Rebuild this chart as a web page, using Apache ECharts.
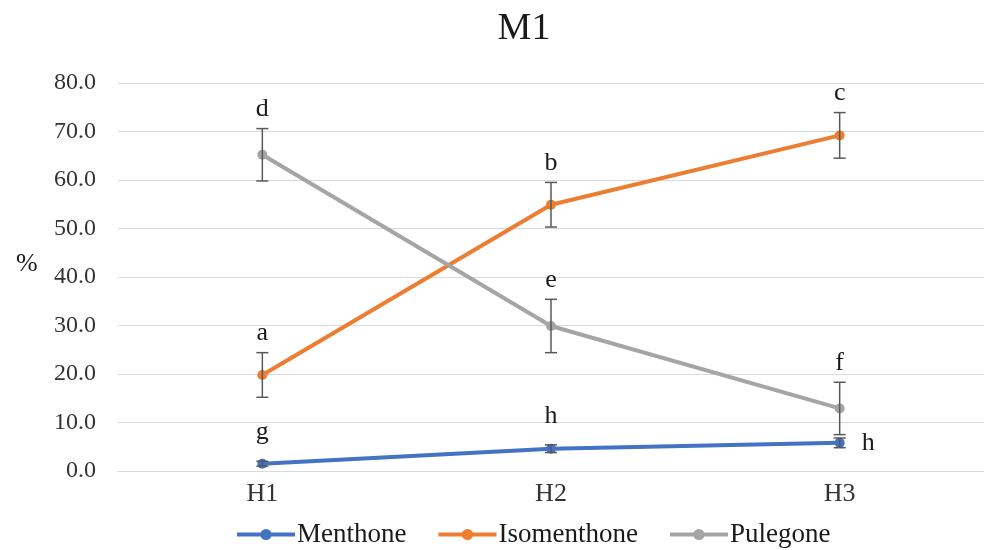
<!DOCTYPE html>
<html>
<head>
<meta charset="utf-8">
<script src="https://cdn.jsdelivr.net/npm/echarts@6/dist/echarts.min.js"></script>
<style>html,body{margin:0;padding:0;background:#fff;}#c{width:984px;height:550px;}</style>
</head>
<body>
<div id="c"></div>
<script>
const categories = ['H1', 'H2', 'H3'];
const yTicks = [0, 10, 20, 30, 40, 50, 60, 70, 80];
const seriesNames = ['Menthone', 'Isomenthone', 'Pulegone'];
const menthone = [1.5, 4.6, 5.8];
const menthoneErr = [0.5, 0.8, 1.0];
const menthoneLetters = ['g', 'h', 'h'];
const isomenthone = [19.8, 54.9, 69.2];
const isomenthoneErr = [4.6, 4.6, 4.7];
const isomenthoneLetters = ['a', 'b', 'c'];
const pulegone = [65.2, 29.9, 12.9];
const pulegoneErr = [5.4, 5.5, 5.4];
const pulegoneLetters = ['d', 'e', 'f'];
const colors = ['#4472C4', '#ED7D31', '#A5A5A5'];

const serif = '"Liberation Serif", "DejaVu Serif", serif';

function errSeries(vals, errs, letters, sideLast) {
  const data = vals.map((v, i) => [i, v, errs[i], letters[i]]);
  return {
    type: 'custom',
    silent: true,
    z: 5,
    data: data,
    renderItem: function (params, api) {
      const i = api.value(0), v = api.value(1), e = api.value(2);
      const letter = data[params.dataIndex][3];
      const top = api.coord([i, v + e]);
      const bot = api.coord([i, v - e]);
      const mid = api.coord([i, v]);
      const hw = 6;
      const st = { stroke: '#595959', lineWidth: 1.5 };
      const children = [
        { type: 'line', shape: { x1: top[0], y1: top[1], x2: bot[0], y2: bot[1] }, style: st },
        { type: 'line', shape: { x1: top[0] - hw, y1: top[1], x2: top[0] + hw, y2: top[1] }, style: st },
        { type: 'line', shape: { x1: bot[0] - hw, y1: bot[1], x2: bot[0] + hw, y2: bot[1] }, style: st }
      ];
      if (sideLast && params.dataIndex === data.length - 1) {
        children.push({ type: 'text', style: { text: letter, x: mid[0] + 22, y: mid[1], align: 'left', verticalAlign: 'middle', fill: '#1a1a1a', font: '26px ' + serif } });
      } else {
        const off = sideLast ? 16 : 6;
        children.push({ type: 'text', style: { text: letter, x: top[0], y: top[1] - off, align: 'center', verticalAlign: 'bottom', fill: '#1a1a1a', font: '26px ' + serif } });
      }
      return { type: 'group', children: children };
    }
  };
}

function lineSeries(name, vals, color) {
  return {
    name: name,
    type: 'line',
    data: vals,
    symbol: 'circle',
    symbolSize: 10,
    lineStyle: { color: color, width: 4 },
    itemStyle: { color: color },
    z: 3
  };
}

const chart = echarts.init(document.getElementById('c'));
chart.setOption({
  animation: false,
  backgroundColor: '#fff',
  title: { text: 'M1', left: 519, top: 5, textAlign: 'center', textStyle: { fontFamily: serif, fontSize: 38, fontWeight: 'normal', color: '#1a1a1a' } },
  legend: {
    data: seriesNames,
    top: 516,
    left: 230,
    itemWidth: 58,
    itemHeight: 14,
    itemGap: 30,
    lineStyle: { width: 4 },
    textStyle: { fontFamily: serif, fontSize: 27, color: '#1a1a1a', padding: [0, 0, 0, -3] }
  },
  grid: { left: 118, right: 0, top: 83, bottom: 79, containLabel: false },
  graphic: [{ type: 'text', left: 16, top: 251, style: { text: '%', font: '26px ' + serif, fill: '#1a1a1a' } }],
  xAxis: {
    type: 'category',
    data: categories,
    axisTick: { show: false },
    axisLine: { lineStyle: { color: '#d9d9d9', width: 1 } },
    axisLabel: { fontFamily: serif, fontSize: 26, color: '#333', margin: 10 }
  },
  yAxis: {
    type: 'value',
    min: yTicks[0],
    max: yTicks[yTicks.length - 1],
    interval: 10,
    axisLine: { show: false },
    axisTick: { show: false },
    splitLine: { lineStyle: { color: '#d9d9d9', width: 1 } },
    axisLabel: { fontFamily: serif, fontSize: 24, color: '#333', margin: 22, formatter: v => v.toFixed(1) }
  },
  series: [
    lineSeries(seriesNames[0], menthone, colors[0]),
    lineSeries(seriesNames[1], isomenthone, colors[1]),
    lineSeries(seriesNames[2], pulegone, colors[2]),
    errSeries(menthone, menthoneErr, menthoneLetters, true),
    errSeries(isomenthone, isomenthoneErr, isomenthoneLetters, false),
    errSeries(pulegone, pulegoneErr, pulegoneLetters, false)
  ]
});
</script>
</body>
</html>
